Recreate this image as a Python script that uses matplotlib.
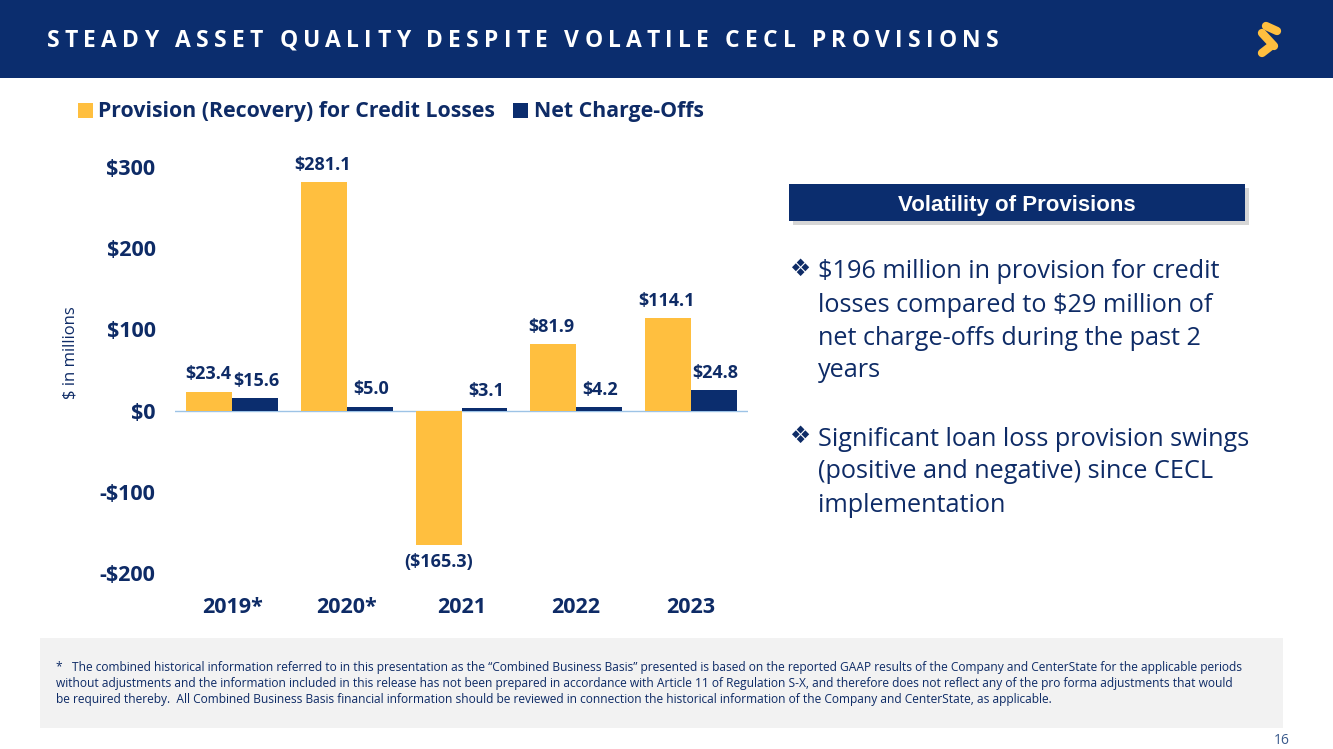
import matplotlib
matplotlib.use("Agg")
import matplotlib.pyplot as plt
from matplotlib.patches import Rectangle
from matplotlib.lines import Line2D
import numpy as np

categories = ["2019*", "2020*", "2021", "2022", "2023"]
provision = [23.4, 281.1, -165.3, 81.9, 114.1]
net_chargeoffs = [15.6, 5.0, 3.1, 4.2, 24.8]
provision_labels = ["$23.4", "$281.1", "($165.3)", "$81.9", "$114.1"]
nco_labels = ["$15.6", "$5.0", "$3.1", "$4.2", "$24.8"]
y_ticks = [-200, -100, 0, 100, 200, 300]
y_tick_labels = ["-$200", "-$100", "$0", "$100", "$200", "$300"]

series_names = ["Provision (Recovery) for Credit Losses", "Net Charge-Offs"]
title = "STEADY ASSET QUALITY DESPITE VOLATILE CECL PROVISIONS"
box_title = "Volatility of Provisions"
bullets = [
    ["$196 million in provision for credit", "losses compared to $29 million of",
     "net charge-offs during the past 2", "years"],
    ["Significant loan loss provision swings", "(positive and negative) since CECL",
     "implementation"],
]
footnote = [
    "*   The combined historical information referred to in this presentation as the \u201cCombined Business Basis\u201d presented is based on the reported GAAP results of the Company and CenterState for the applicable periods",
    "without adjustments and the information included in this release has not been prepared in accordance with Article 11 of Regulation S-X, and therefore does not reflect any of the pro forma adjustments that would",
    "be required thereby.  All Combined Business Basis financial information should be reviewed in connection the historical information of the Company and CenterState, as applicable.",
]
page_number = "16"

NAVY = "#0B2D6E"
YELLOW = "#FFBF3F"
TEXT = "#0E2B66"

W, H = 1333, 749
fig = plt.figure(figsize=(W / 100, H / 100), dpi=100)
fig.patch.set_facecolor("white")


def fx(x):
    return x / W


def fy(y):
    return 1 - y / H


# header band
fig.patches.append(Rectangle((0, fy(78)), 1, 78 / H, transform=fig.transFigure,
                             facecolor=NAVY, edgecolor="none", zorder=0))

# title with letter spacing
renderer = fig.canvas.get_renderer()
x = 47
tracking = 5.2
for ch in title:
    t = fig.text(fx(x), fy(41), ch, color="white", fontsize=16.5, fontweight="bold",
                 family="Open Sans", va="center", ha="left")
    if ch == " ":
        w = 6.0
    else:
        w = t.get_window_extent(renderer).width
    x += w + tracking

# logo (stylised S)
logo_segments = [((1266, 26), (1277, 31)), ((1262, 33), (1274, 46)), ((1262, 53), (1271, 46))]
for (x0, y0), (x1, y1) in logo_segments:
    fig.add_artist(Line2D([fx(x0), fx(x1)], [fy(y0), fy(y1)], transform=fig.transFigure,
                          color=YELLOW, linewidth=6, solid_capstyle="round"))

# chart axes
ax = fig.add_axes([fx(175), fy(573), fx(748) - fx(175), (573 - 167) / H])
xpos = np.arange(len(categories))
bw = 0.4
ax.bar(xpos - bw / 2, provision, bw, color=YELLOW, zorder=2)
ax.bar(xpos + bw / 2, net_chargeoffs, bw, color=NAVY, zorder=2)
ax.set_xlim(-0.5, len(categories) - 0.5)
ax.set_ylim(-200, 300)
ax.axhline(0, color="#9DC3E6", linewidth=1, zorder=1)
for s in ax.spines.values():
    s.set_visible(False)
ax.set_yticks(y_ticks)
ax.set_yticklabels(y_tick_labels)
ax.set_xticks(xpos)
ax.set_xticklabels(categories)
ax.tick_params(axis="both", length=0, labelcolor=TEXT, labelsize=15.5)
ax.tick_params(axis="y", pad=14)
ax.tick_params(axis="x", pad=17)
for lab in ax.get_xticklabels() + ax.get_yticklabels():
    lab.set_fontweight("bold")
    lab.set_family("Open Sans")
ax.set_facecolor("none")

for i, (v, lab) in enumerate(zip(provision, provision_labels)):
    if v >= 0:
        ax.annotate(lab, (xpos[i] - bw / 2, v), xytext=(-1, 6), textcoords="offset points",
                    ha="center", va="bottom", color=TEXT, fontsize=13, fontweight="bold",
                    family="Open Sans", annotation_clip=False)
    else:
        ax.annotate(lab, (xpos[i] - bw / 2, v), xytext=(0, -6), textcoords="offset points",
                    ha="center", va="top", color=TEXT, fontsize=13, fontweight="bold",
                    family="Open Sans", annotation_clip=False)
for i, (v, lab) in enumerate(zip(net_chargeoffs, nco_labels)):
    ax.annotate(lab, (xpos[i] + bw / 2, v), xytext=(1, 6), textcoords="offset points",
                ha="center", va="bottom", color=TEXT, fontsize=13, fontweight="bold",
                family="Open Sans", annotation_clip=False)

fig.text(fx(70), fy(353), "$ in millions", rotation=90, ha="center", va="center",
         color=TEXT, fontsize=12, family="Open Sans")

# legend
fig.patches.append(Rectangle((fx(78), fy(118)), 15 / W, 15 / H, transform=fig.transFigure,
                             facecolor=YELLOW, edgecolor="none"))
fig.text(fx(98), fy(112), series_names[0], ha="left", va="center", color=TEXT,
         fontsize=15.3, fontweight="bold", family="Open Sans")
fig.patches.append(Rectangle((fx(513), fy(118)), 15 / W, 15 / H, transform=fig.transFigure,
                             facecolor=NAVY, edgecolor="none"))
fig.text(fx(534), fy(112), series_names[1], ha="left", va="center", color=TEXT,
         fontsize=15.3, fontweight="bold", family="Open Sans")

# right panel box with shadow
fig.patches.append(Rectangle((fx(793), fy(225)), (1249 - 793) / W, 37 / H,
                             transform=fig.transFigure, facecolor="#BBBBBB",
                             edgecolor="none", alpha=0.6))
fig.patches.append(Rectangle((fx(789), fy(221)), (1245 - 789) / W, 37 / H,
                             transform=fig.transFigure, facecolor=NAVY, edgecolor="none"))
fig.text(fx(1017), fy(205), box_title, ha="center", va="center", color="white",
         fontsize=16, fontweight="bold", family="Liberation Sans")

y0s = [272, 439]
for lines, y0 in zip(bullets, y0s):
    fig.text(fx(789), fy(y0 - 3), "\u2756", ha="left", va="center", color=TEXT,
             fontsize=17, family="DejaVu Sans")
    for k, line in enumerate(lines):
        fig.text(fx(818), fy(y0 + 33 * k), line, ha="left", va="center", color=TEXT,
                 fontsize=18.2, family="Open Sans")

# footnote box
fig.patches.append(Rectangle((fx(40), fy(728)), (1283 - 40) / W, (728 - 638) / H,
                             transform=fig.transFigure, facecolor="#F2F2F2",
                             edgecolor="none", zorder=0))
for k, line in enumerate(footnote):
    fig.text(fx(56), fy(668 + 16 * k), line, ha="left", va="center", color=TEXT,
             fontsize=8.68, family="Open Sans")
fig.text(fx(1290), fy(740), page_number, ha="right", va="center", color="#3A5A8C",
         fontsize=10, family="Open Sans")

fig.savefig("out.png", dpi=100)
